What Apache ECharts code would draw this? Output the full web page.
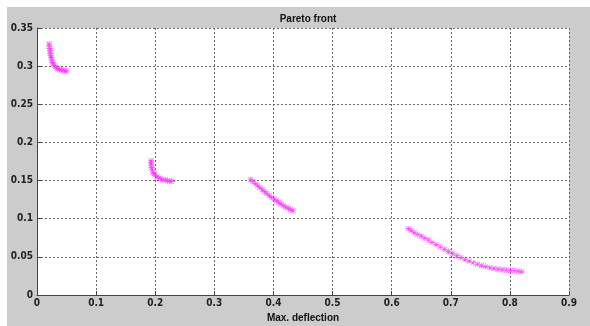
<!DOCTYPE html>
<html>
<head>
<meta charset="utf-8">
<script src="https://cdn.jsdelivr.net/npm/echarts@6/dist/echarts.min.js"></script>
<style>
html,body{margin:0;padding:0;background:#fff;}
#c{width:590px;height:326px;}
</style>
</head>
<body>
<div id="c"></div>
<script>
var xTicks = [0, 0.1, 0.2, 0.3, 0.4, 0.5, 0.6, 0.7, 0.8, 0.9];
var yTicks = [0, 0.05, 0.1, 0.15, 0.2, 0.25, 0.3, 0.35];

var cluster1 = [[0.0205,0.329],[0.021,0.326],[0.0215,0.323],[0.022,0.320],[0.0225,0.317],[0.023,0.314],[0.024,0.311],[0.025,0.308],[0.026,0.305],[0.0275,0.303],[0.029,0.301],[0.031,0.299],[0.033,0.2975],[0.035,0.2965],[0.038,0.2955],[0.041,0.295],[0.044,0.2945],[0.047,0.294],[0.050,0.2935]];
var cluster2 = [[0.193,0.176],[0.193,0.173],[0.1935,0.170],[0.194,0.167],[0.195,0.164],[0.196,0.161],[0.198,0.159],[0.200,0.157],[0.203,0.155],[0.206,0.1535],[0.209,0.152],[0.213,0.151],[0.217,0.1505],[0.221,0.150],[0.225,0.1495],[0.228,0.149]];
var cluster3 = [[0.361,0.151],[0.365,0.149],[0.369,0.146],[0.373,0.1435],[0.377,0.141],[0.381,0.138],[0.385,0.1355],[0.389,0.133],[0.393,0.1305],[0.397,0.128],[0.401,0.1257],[0.405,0.1235],[0.409,0.1213],[0.413,0.119],[0.417,0.117],[0.421,0.115],[0.425,0.1133],[0.429,0.1118],[0.433,0.1105]];
var cluster4 = [[0.628,0.087],[0.633,0.0845],[0.638,0.082],[0.644,0.0795],[0.65,0.077],[0.656,0.0745],[0.662,0.072],[0.668,0.069],[0.675,0.066],[0.682,0.063],[0.689,0.060],[0.696,0.057],[0.703,0.054],[0.710,0.0515],[0.717,0.049],[0.724,0.0465],[0.731,0.0443],[0.738,0.0422],[0.745,0.0403],[0.752,0.0387],[0.759,0.0372],[0.766,0.0358],[0.773,0.0347],[0.780,0.0338],[0.787,0.0331],[0.794,0.0325],[0.801,0.032],[0.808,0.0316],[0.814,0.0312],[0.820,0.0309]];

var star = 'path://M3.6,0H4.4V8H3.6Z M0,3.6H8V4.4H0Z M0.9,0.4L7.6,7.1L7.1,7.6L0.4,0.9Z M7.1,0.4L7.6,0.9L0.9,7.6L0.4,7.1Z';
var font = "'DejaVu Sans Condensed', 'Liberation Sans Narrow', Arial, sans-serif";
var grid = {left: 37, top: 28, width: 532, height: 267};

var chart = echarts.init(document.getElementById('c'), null, {renderer: 'canvas'});
var pts = cluster1.concat(cluster2, cluster3, cluster4);
chart.setOption({
  animation: false,
  backgroundColor: '#fff',
  graphic: [{type: 'rect', z: -10, silent: true, shape: {x: 7, y: 7, width: 583, height: 319}, style: {fill: '#cccccc'}}],
  title: {text: 'Pareto front', left: 303, textAlign: 'center', top: 9,
    textStyle: {fontFamily: 'Liberation Sans, Arial, sans-serif', fontSize: 10, fontWeight: 'bold', color: '#111'}},
  grid: {left: grid.left, top: grid.top, width: grid.width, height: grid.height, show: true, backgroundColor: '#fff', borderWidth: 0, containLabel: false, outerBoundsMode: 'none'},
  xAxis: {
    type: 'value', min: xTicks[0], max: xTicks[xTicks.length-1], interval: 0.1,
    name: 'Max. deflection', nameLocation: 'middle', nameGap: 18,
    nameTextStyle: {fontFamily: 'Liberation Sans, Arial, sans-serif', fontSize: 10, fontWeight: 'bold', color: '#111'},
    axisLine: {show: true, onZero: false, lineStyle: {color: '#444', width: 1}},
    axisTick: {show: true, inside: true, length: 4, lineStyle: {color: '#444'}},
    axisLabel: {margin: 3, fontFamily: font, fontSize: 10, fontWeight: 'bold', color: '#222',
      formatter: function(v){ return String(Math.round(v*100)/100); }},
    splitLine: {show: true, lineStyle: {color: '#666', type: [2, 2], width: 1}}
  },
  yAxis: {
    type: 'value', min: yTicks[0], max: yTicks[yTicks.length-1], interval: 0.05,
    name: 'Cost', nameLocation: 'middle', nameGap: 24,
    nameTextStyle: {fontFamily: 'Liberation Sans, Arial, sans-serif', fontSize: 10, fontWeight: 'bold', color: '#111'},
    axisLine: {show: true, onZero: false, lineStyle: {color: '#444', width: 1}},
    axisTick: {show: true, inside: true, length: 4, lineStyle: {color: '#444'}},
    axisLabel: {margin: 4, fontFamily: font, fontSize: 10, fontWeight: 'bold', color: '#222',
      formatter: function(v){ return String(Math.round(v*100)/100); }},
    splitLine: {show: true, lineStyle: {color: '#666', type: [2, 2], width: 1}}
  },
  series: [{
    type: 'scatter', data: pts, symbol: star, symbolSize: 6,
    itemStyle: {color: '#ff33ff', opacity: 0.9}
  }]
});
</script>
</body>
</html>
